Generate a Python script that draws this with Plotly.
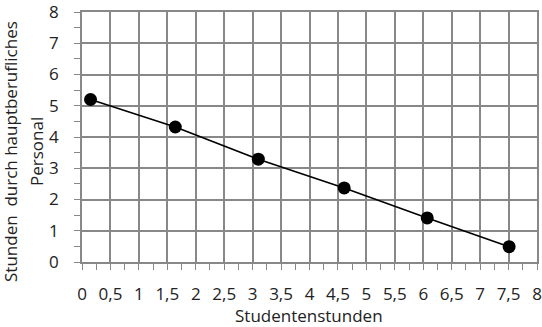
import plotly.graph_objects as go

student_hours = [0.15, 1.64, 3.10, 4.61, 6.07, 7.51]
staff_hours = [5.20, 4.32, 3.29, 2.37, 1.41, 0.49]

x_tickvals = [0, 0.5, 1, 1.5, 2, 2.5, 3, 3.5, 4, 4.5, 5, 5.5, 6, 6.5, 7, 7.5, 8]
x_ticktext = ["0", "0,5", "1", "1,5", "2", "2,5", "3", "3,5", "4", "4,5",
              "5", "5,5", "6", "6,5", "7", "7,5", "8"]
y_tickvals = [0, 1, 2, 3, 4, 5, 6, 7, 8]
y_ticktext = ["0", "1", "2", "3", "4", "5", "6", "7", "8"]

x_title = "Studentenstunden"
y_title_lines = ["Stunden  durch hauptberufliches", "Personal"]

FONT = "Open Sans"
GRID = "#888888"

fig = go.Figure()
fig.add_trace(go.Scatter(
    x=student_hours, y=staff_hours, mode="lines+markers",
    line=dict(color="black", width=1.6),
    marker=dict(color="black", size=13),
    showlegend=False,
))

axis_common = dict(
    showgrid=True, gridcolor=GRID, gridwidth=1.7,
    showline=True, linecolor=GRID, linewidth=1.7, mirror=True,
    ticks="outside", ticklen=6, tickcolor=GRID, tickwidth=1.4,
    zeroline=False, fixedrange=True, ticklabeloverflow="allow",
    automargin=False,
    tickfont=dict(family=FONT, size=17, color="#222"),
)

fig.update_layout(
    width=542, height=327,
    margin=dict(l=82, r=5, t=12, b=65, autoexpand=False),
    paper_bgcolor="white", plot_bgcolor="white",
    xaxis=dict(range=[0, 8], tickmode="array", tickvals=x_tickvals,
               ticktext=x_ticktext, ticklabelstandoff=10,
               minor=dict(dtick=0.25, ticks="outside", ticklen=6,
                          tickcolor=GRID, showgrid=False),
               **axis_common),
    yaxis=dict(range=[0, 8], tickmode="array", tickvals=y_tickvals,
               ticktext=y_ticktext, ticklabelstandoff=12,
               minor=dict(dtick=0.5, ticks="outside", ticklen=6,
                          tickcolor=GRID, showgrid=False),
               **axis_common),
    annotations=[
        dict(text=x_title, xref="paper", yref="paper", x=(309 - 82) / 455,
             y=-(315 - 262) / 250, xanchor="center", yanchor="middle",
             showarrow=False, font=dict(family=FONT, size=17, color="#222")),
        dict(text=y_title_lines[0], xref="paper", yref="paper",
             x=-(82 - 10) / 455, y=(262 - 152) / 250,
             xanchor="center", yanchor="middle",
             textangle=-90, showarrow=False,
             font=dict(family=FONT, size=17, color="#222")),
        dict(text=y_title_lines[1], xref="paper", yref="paper",
             x=-(82 - 36) / 455, y=(262 - 152) / 250,
             xanchor="center", yanchor="middle",
             textangle=-90, showarrow=False,
             font=dict(family=FONT, size=17, color="#222")),
    ],
)

fig.write_html("out.html")
